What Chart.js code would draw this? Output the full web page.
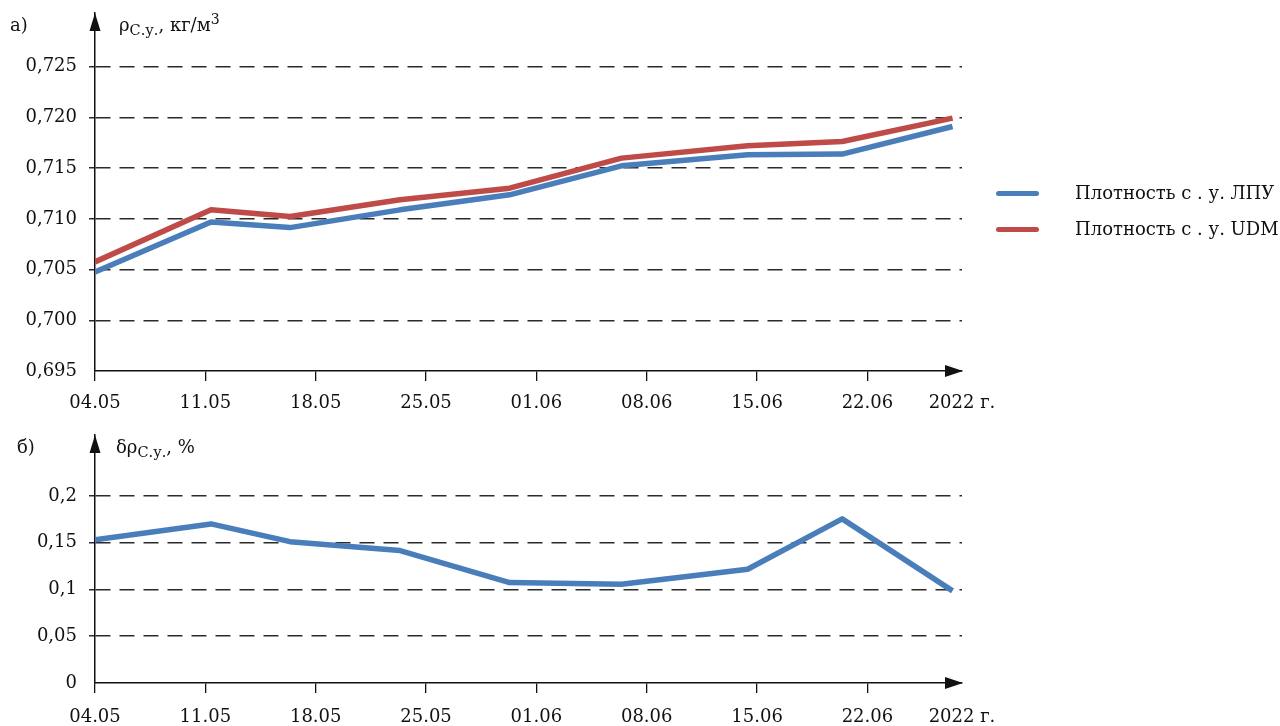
<!DOCTYPE html>
<html><head><meta charset="utf-8">
<script src="https://cdn.jsdelivr.net/npm/chart.js@4.4.0/dist/chart.umd.min.js"></script>
<style>
body{margin:0;background:#fff;width:1280px;height:726px;overflow:hidden;position:relative;font-family:"DejaVu Serif",serif;color:#111}
canvas{position:absolute;left:0}
.t{position:absolute;font-size:18px;line-height:18px;white-space:nowrap}
.t sub{font-size:14.5px;vertical-align:-4px;line-height:0}
.t sup{font-size:14px;vertical-align:7px;line-height:0}
.leg{position:absolute;left:996px;height:20px;font-size:18px;line-height:20px;white-space:nowrap}
.leg i{position:absolute;left:0;top:7.5px;width:43px;height:5px;border-radius:2.5px}
.leg span{position:absolute;left:79px;top:0}
</style></head>
<body>
<canvas id="c1" width="1010" height="420" style="top:0;width:1010px;height:420px"></canvas>
<canvas id="c2" width="1010" height="306" style="top:420px;width:1010px;height:306px"></canvas>
<div class="t" style="left:10px;top:16px">а)</div>
<div class="t" style="left:119px;top:16px">ρ<sub>С.у.</sub>, кг/м<sup>3</sup></div>
<div class="t" style="left:17px;top:438px">б)</div>
<div class="t" style="left:116px;top:438px">δρ<sub>С.у.</sub>, %</div>
<div class="leg" style="top:183px"><i style="background:#4a7ebb"></i><span>Плотность с . у. ЛПУ</span></div>
<div class="leg" style="top:219px"><i style="background:#be4b48"></i><span>Плотность с . у. UDM</span></div>
<script>
// Days counted from 04.05 (2022)
const days = [0, 7.36, 12.37, 19.35, 26.3, 33.4, 41.4, 47.4, 54.4];
const densityLPU = [0.70477, 0.70970, 0.70914, 0.71089, 0.71237, 0.71523, 0.71632, 0.71639, 0.71911];
const densityUDM = [0.70576, 0.71089, 0.71023, 0.71188, 0.71303, 0.71599, 0.71720, 0.71763, 0.71994];
const deviation = [0.153, 0.170, 0.151, 0.1415, 0.1073, 0.1055, 0.1216, 0.1754, 0.0984];
const xTickValues = [0, 7, 14, 21, 28, 35, 42, 49, 55];
const xTickLabels = ['04.05', '11.05', '18.05', '25.05', '01.06', '08.06', '15.06', '22.06', '2022 г.'];
const yTicksTop = [0.695, 0.700, 0.705, 0.710, 0.715, 0.720, 0.725];
const yLabelsTop = ['0,695', '0,700', '0,705', '0,710', '0,715', '0,720', '0,725'];
const yTicksBottom = [0, 0.05, 0.1, 0.15, 0.2];
const yLabelsBottom = ['0', '0,05', '0,1', '0,15', '0,2'];
const seriesNames = ['Плотность с . у. ЛПУ', 'Плотность с . у. UDM', 'δρ'];

const FONT = {family: '"DejaVu Serif", serif', size: 18};
const INK = '#111';

const arrowPlugin = {
  id: 'arrows',
  afterDraw(chart) {
    const {ctx, chartArea: a} = chart;
    ctx.save();
    ctx.fillStyle = INK;
    ctx.beginPath();
    ctx.moveTo(a.left, a.top);
    ctx.lineTo(a.left - 5.5, a.top + 18);
    ctx.lineTo(a.left + 5.5, a.top + 18);
    ctx.closePath(); ctx.fill();
    ctx.beginPath();
    ctx.moveTo(a.right + 1, a.bottom);
    ctx.lineTo(a.right - 17, a.bottom - 6);
    ctx.lineTo(a.right - 17, a.bottom + 6);
    ctx.closePath(); ctx.fill();
    ctx.restore();
  }
};

function zeroPad(s) { s.paddingTop = 0; s.paddingBottom = 0; s.paddingLeft = 0; s.paddingRight = 0; }

function makeChart(id, datasets, yMin, yMax, yTicks, yLabels, topPad, xHeight, xPad) {
  return new Chart(document.getElementById(id), {
    type: 'line',
    data: {datasets},
    options: {
      responsive: false, animation: false, devicePixelRatio: 1,
      layout: {padding: {left: 0, top: topPad, right: 48, bottom: 0}},
      plugins: {legend: {display: false}, tooltip: {enabled: false}},
      elements: {point: {radius: 0}, line: {borderWidth: 5.5, tension: 0, borderJoinStyle: 'round', borderCapStyle: 'butt'}},
      scales: {
        x: {
          type: 'linear', min: 0, max: 55,
          afterBuildTicks: s => { s.ticks = xTickValues.map(v => ({value: v})); },
          afterFit: s => { s.height = xHeight; zeroPad(s); },
          ticks: {font: FONT, color: INK, padding: xPad, maxRotation: 0, autoSkip: false,
                  callback: (v, i) => xTickLabels[i]},
          grid: {drawOnChartArea: false, drawTicks: true, tickLength: 10, lineWidth: 1.3,
                 color: c => c.index === xTickValues.length - 1 ? 'rgba(0,0,0,0)' : INK},
          border: {display: true, color: INK, width: 1.5}
        },
        y: {
          type: 'linear', min: yMin, max: yMax,
          afterBuildTicks: s => { s.ticks = yTicks.map(v => ({value: v})); },
          afterFit: s => { s.width = 95; zeroPad(s); },
          ticks: {font: FONT, color: INK, padding: 12, autoSkip: false,
                  callback: (v, i) => yLabels[i]},
          grid: {drawTicks: true, tickLength: 6, lineWidth: 1.5,
                 color: c => (c.tick && Math.abs(c.tick.value - yMin) < 1e-9) ? 'rgba(0,0,0,0)' : '#2a2a2a'},
          border: {display: true, color: INK, width: 1.5, dash: [15, 9]}
        }
      }
    },
    plugins: [arrowPlugin]
  });
}

const pts = arr => arr.map((v, i) => ({x: days[i], y: v}));

makeChart('c1', [
  {label: seriesNames[0], data: pts(densityLPU), borderColor: '#4a7ebb'},
  {label: seriesNames[1], data: pts(densityUDM), borderColor: '#be4b48'}
], 0.695, 0.7303, yTicksTop, yLabelsTop, 13, 49, 12);

makeChart('c2', [
  {label: seriesNames[2], data: pts(deviation), borderColor: '#4a7ebb'}
], 0, 0.265, yTicksBottom, yLabelsBottom, 15, 306 - 263, 14);
</script>
</body></html>
